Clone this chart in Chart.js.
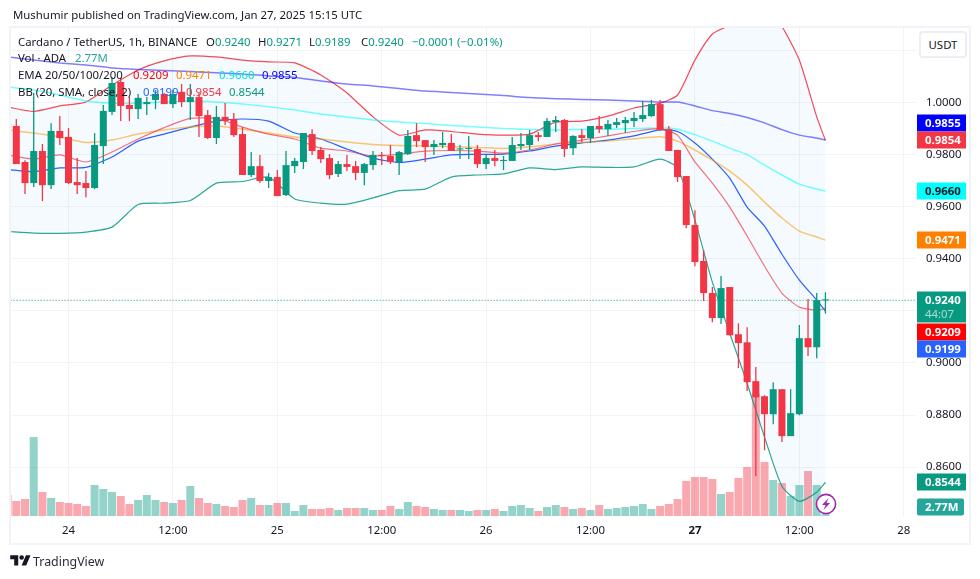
<!DOCTYPE html>
<html>
<head>
<meta charset="utf-8">
<title>Cardano / TetherUS</title>
<script src="https://cdn.jsdelivr.net/npm/chart.js@4"></script>
<style>
  html, body { margin: 0; padding: 0; background: #fff; }
  body { width: 980px; height: 579px; position: relative; overflow: hidden; font-family: "Noto Sans", sans-serif; color: #131722; }
  canvas { position: absolute; left: 0; top: 0; }
  .frame { position: absolute; left: 9px; top: 26px; width: 958px; height: 515px; border: 2px solid #f0f3fa; }
  .t { position: absolute; white-space: nowrap; font-size: 11.4px; line-height: 16px; }
  .usdt { position: absolute; left: 919px; top: 31px; width: 44px; height: 23px; border: 2px solid #eceef5; border-radius: 4px; font-size: 11.4px; line-height: 23px; text-align: center; background: #fff; }
</style>
</head>
<body>
<canvas id="chart" width="980" height="579"></canvas>
<div class="frame"></div>

<div class="t" style="left:13px;top:7px">Mushumir published on TradingView.com, Jan 27, 2025 15:15 UTC</div>

<div class="t" style="left:18px;top:34px">Cardano / TetherUS, 1h, BINANCE</div>
<div class="t" style="left:206px;top:34px">O<span style="color:#089981">0.9240</span></div>
<div class="t" style="left:258px;top:34px">H<span style="color:#089981">0.9271</span></div>
<div class="t" style="left:309px;top:34px">L<span style="color:#089981">0.9189</span></div>
<div class="t" style="left:361px;top:34px">C<span style="color:#089981">0.9240</span></div>
<div class="t" style="left:412px;top:34px;color:#089981">−0.0001 (−0.01%)</div>

<div class="t" style="left:18px;top:50px">Vol · ADA</div>
<div class="t" style="left:75px;top:50px;color:#26a69a">2.77M</div>

<div class="t" style="left:18px;top:67px">EMA 20/50/100/200</div>
<div class="t" style="left:133px;top:67px;color:#ff0000">0.9209</div>
<div class="t" style="left:176px;top:67px;color:#ff7f00">0.9471</div>
<div class="t" style="left:219px;top:67px;color:#00e5e5">0.9660</div>
<div class="t" style="left:262px;top:67px;color:#0000ff">0.9855</div>

<div class="t" style="left:18px;top:84px">BB (20, SMA, close, 2)</div>
<div class="t" style="left:143px;top:84px;color:#2962ff">0.9199</div>
<div class="t" style="left:186px;top:84px;color:#f23645">0.9854</div>
<div class="t" style="left:229px;top:84px;color:#089981">0.8544</div>

<div class="usdt">USDT</div>

<svg style="position:absolute;left:815px;top:493px" width="22" height="22" viewBox="0 0 22 22">
  <circle cx="11" cy="11" r="9.6" fill="#fff" stroke="#9c27b0" stroke-width="1.6"/>
  <path d="M13.5 5 L7 12 L10.6 12 L8.5 17 L15 10 L11.4 10 Z" fill="#9c27b0"/>
</svg>

<svg style="position:absolute;left:10px;top:553px" width="21" height="16" viewBox="0 0 36 28">
  <path d="M14 22H7V11H0V4h14v18zM28 22h-8l7.5-18h8L28 22z" fill="#131722"/>
  <circle cx="20" cy="8" r="4" fill="#131722"/>
</svg>
<div class="t" style="left:33px;top:552px;font-size:12.4px;line-height:20px;color:#2a2e39">TradingView</div>

<script>
// hours counted from Jan 24 00:00, one candle per hour
const firstHour = -7;
const opens = [0.9917,0.9909,0.9771,0.9690,0.9813,0.9682,0.9890,0.9867,0.9694,0.9690,0.9671,0.9832,0.9963,1.0078,0.9990,0.9974,0.9993,1.0009,1.0032,0.9993,1.0040,1.0001,1.0020,0.9951,0.9863,0.9944,0.9936,0.9878,0.9721,0.9755,0.9698,0.9713,0.9644,0.9755,0.9771,0.9878,0.9817,0.9786,0.9725,0.9763,0.9755,0.9729,0.9759,0.9798,0.9794,0.9771,0.9801,0.9874,0.9855,0.9828,0.9836,0.9844,0.9819,0.9821,0.9821,0.9763,0.9786,0.9775,0.9775,0.9832,0.9836,0.9874,0.9867,0.9924,0.9932,0.9824,0.9874,0.9863,0.9909,0.9897,0.9913,0.9920,0.9928,0.9936,0.9947,0.9993,0.9897,0.9817,0.9717,0.9529,0.9391,0.9268,0.9172,0.9291,0.9110,0.9079,0.8930,0.8872,0.8803,0.8899,0.8719,0.8803,0.9095,0.9060,0.9240];
const highs = [0.9925,0.9936,0.9778,1.0036,0.9840,0.9920,0.9947,0.9901,0.9786,0.9736,0.9882,0.9990,1.0097,1.0093,1.0020,1.0032,1.0020,1.0047,1.0036,1.0047,1.0070,1.0070,1.0036,0.9970,0.9986,0.9997,0.9959,0.9905,0.9809,0.9798,0.9729,0.9740,0.9813,0.9786,0.9882,0.9897,0.9828,0.9801,0.9775,0.9798,0.9775,0.9767,0.9813,0.9809,0.9836,0.9813,0.9894,0.9920,0.9855,0.9855,0.9886,0.9878,0.9836,0.9871,0.9836,0.9798,0.9817,0.9794,0.9867,0.9882,0.9894,0.9886,0.9940,0.9947,0.9936,0.9874,0.9897,0.9909,0.9947,0.9932,0.9940,0.9944,0.9963,1.0005,1.0009,1.0009,0.9909,0.9817,0.9717,0.9586,0.9433,0.9291,0.9333,0.9291,0.9152,0.9137,0.8984,0.8876,0.8926,0.8899,0.8899,0.9145,0.9245,0.9268,0.9271];
const lows = [0.9897,0.9763,0.9648,0.9675,0.9621,0.9667,0.9836,0.9686,0.9648,0.9636,0.9667,0.9763,0.9951,0.9928,0.9928,0.9936,0.9951,0.9974,0.9993,0.9978,0.9982,0.9932,0.9867,0.9859,0.9840,0.9913,0.9867,0.9721,0.9713,0.9690,0.9671,0.9640,0.9640,0.9729,0.9744,0.9798,0.9767,0.9705,0.9713,0.9736,0.9702,0.9682,0.9740,0.9759,0.9763,0.9721,0.9798,0.9828,0.9771,0.9798,0.9824,0.9813,0.9782,0.9782,0.9748,0.9744,0.9755,0.9740,0.9775,0.9817,0.9817,0.9851,0.9867,0.9886,0.9790,0.9798,0.9848,0.9844,0.9882,0.9871,0.9901,0.9882,0.9905,0.9924,0.9944,0.9890,0.9813,0.9694,0.9517,0.9371,0.9237,0.9156,0.9149,0.9106,0.8980,0.8892,0.8565,0.8665,0.8765,0.8696,0.8719,0.8799,0.9026,0.9018,0.9189];
const closes = [0.9905,0.9763,0.9690,0.9813,0.9682,0.9890,0.9863,0.9690,0.9682,0.9671,0.9836,0.9967,1.0074,0.9986,0.9974,1.0017,1.0001,1.0032,0.9993,1.0032,1.0001,1.0020,0.9947,0.9863,0.9944,0.9928,0.9874,0.9721,0.9755,0.9698,0.9713,0.9640,0.9759,0.9775,0.9882,0.9813,0.9782,0.9721,0.9763,0.9752,0.9729,0.9763,0.9798,0.9794,0.9771,0.9809,0.9871,0.9851,0.9828,0.9840,0.9844,0.9813,0.9823,0.9824,0.9763,0.9786,0.9775,0.9778,0.9836,0.9840,0.9874,0.9867,0.9928,0.9932,0.9821,0.9871,0.9863,0.9909,0.9897,0.9917,0.9924,0.9932,0.9940,0.9951,0.9993,0.9894,0.9813,0.9713,0.9529,0.9387,0.9268,0.9172,0.9287,0.9106,0.9076,0.8926,0.8868,0.8803,0.8899,0.8719,0.8807,0.9095,0.9060,0.9241,0.9240];
const volumes = [33.6,24,27.2,126.4,38.4,28.8,22.4,20.8,19.2,16,49.6,43.2,38.4,32,19.2,25.6,33.6,25.6,22.4,20.8,25.6,48,28.8,20.8,19.2,16,14.4,25.6,28.8,17.6,17.6,20.8,20.8,8,17.6,11.2,11.2,12.8,9.6,12.8,12.8,12.8,9.6,9.6,16,11.2,22.4,16,14.4,11.2,9.6,9.6,9.6,8,9.6,9.6,11.2,8,16,17.6,12.8,8,14.4,17.6,14.4,11.2,12.8,9.6,17.6,11.2,12.8,14.4,16,19.2,11.2,16,19.2,27.2,56,62.4,62.4,59.2,35.2,38.4,60.8,78.4,196.8,86.4,57.6,52.8,32,49.6,72,49.6,2.77];

// indicator readings, taken every few hours along the lines
const lineHours = [-7,-4,-1,2,5,8,11,14,17,20,23,26,29,32,35,38,41,44,47,50,53,56,59,62,65,68,70,72,74,76,78,80,82,84,86,87];
const ema20 = [0.9798,0.9782,0.9798,0.9771,0.9809,0.9859,0.9903,0.9938,0.9938,0.9905,0.9878,0.9859,0.9824,0.9813,0.9794,0.9801,0.9813,0.9815,0.9813,0.9805,0.9817,0.9840,0.9855,0.9871,0.9888,0.9899,0.9874,0.9771,0.9690,0.9598,0.9487,0.9371,0.9268,0.9214,0.9202,0.9209];
const ema50 = [0.9894,0.9882,0.9867,0.9846,0.9855,0.9878,0.9894,0.9905,0.9909,0.9897,0.9882,0.9867,0.9859,0.9848,0.9838,0.9834,0.9832,0.9830,0.9827,0.9823,0.9829,0.9840,0.9846,0.9851,0.9860,0.9868,0.9851,0.9817,0.9778,0.9736,0.9682,0.9617,0.9556,0.9506,0.9483,0.9471];
const ema100 = [1.0059,1.0047,1.0028,1.0005,0.9997,0.9997,1.0001,1.0005,1.0001,0.9993,0.9983,0.9970,0.9955,0.9944,0.9932,0.9924,0.9919,0.9911,0.9905,0.9899,0.9896,0.9894,0.9896,0.9897,0.9899,0.9901,0.9897,0.9876,0.9851,0.9824,0.9799,0.9759,0.9721,0.9686,0.9667,0.9660];
const ema200 = [1.0174,1.0162,1.0151,1.0143,1.0132,1.0126,1.0122,1.0118,1.0113,1.0109,1.0101,1.0095,1.0082,1.0070,1.0063,1.0053,1.0043,1.0038,1.0032,1.0026,1.0018,1.0014,1.0011,1.0009,1.0005,1.0001,1.0001,0.9986,0.9968,0.9957,0.9942,0.9921,0.9895,0.9874,0.9863,0.9855];
const bbBasis = [0.9742,0.9734,0.9748,0.9750,0.9790,0.9851,0.9878,0.9905,0.9928,0.9936,0.9928,0.9882,0.9859,0.9821,0.9786,0.9769,0.9782,0.9798,0.9800,0.9801,0.9813,0.9832,0.9844,0.9855,0.9871,0.9894,0.9888,0.9844,0.9782,0.9709,0.9598,0.9525,0.9417,0.9318,0.9241,0.9199];
const bbUpper = [0.9982,0.9965,0.9986,1.0001,1.0066,1.0124,1.0159,1.0178,1.0174,1.0162,1.0155,1.0151,1.0105,1.0036,0.9944,0.9874,0.9894,0.9888,0.9878,0.9874,0.9878,0.9924,0.9928,0.9947,0.9978,0.9997,1.0028,1.0162,1.0262,1.0297,1.0354,1.0374,1.0291,1.0162,0.9944,0.9854];
const bbLower = [0.9504,0.9498,0.9497,0.9502,0.9521,0.9608,0.9613,0.9623,0.9690,0.9696,0.9713,0.9629,0.9613,0.9609,0.9633,0.9661,0.9667,0.9713,0.9721,0.9725,0.9748,0.9742,0.9752,0.9750,0.9752,0.9782,0.9748,0.9548,0.9310,0.9114,0.8922,0.8715,0.8527,0.8469,0.8504,0.8542];

const lastPrice = 0.9240;
const lastPriceHours = [-7, 98];

const priceTicks = ['0.8600','0.8800','0.9000','0.9400','0.9600','0.9800','1.0000'];
const timeTickHours = [0,12,24,36,48,60,72,84,96];
const timeTickLabels = ['24','12:00','25','12:00','26','12:00','27','12:00','28'];
const boldTimeTick = 72;

const tagValues = [0.9855,0.9854,0.9660,0.9471,0.9240,0.9209,0.9199,0.8544];
const tagColors = ['#0000ff','#f23645','#00ffff','#ff7f00','#089981','#ff0000','#2962ff','#089981'];
const tagTextColors = ['#fff','#fff','#131722','#fff','#fff','#fff','#fff','#fff'];
// how far each tag got pushed off its price so they don't overlap
const tagShifts = [-17,0,0,0,0,24,38,0];
const volumeTag = '2.77M';
const countdown = '44:07';

const upColor = '#089981';
const downColor = '#f23645';
const candleHours = opens.map((_, i) => firstHour + i);
const isUp = i => closes[i] >= opens[i];
const candleColors = candleHours.map((_, i) => isUp(i) ? upColor : downColor);
const volumeColors = candleHours.map((_, i) => isUp(i) ? 'rgba(8,153,129,0.43)' : 'rgba(242,54,69,0.43)');

function lineSet(label, values, color, extra) {
  return Object.assign({
    type: 'line',
    label: label,
    data: lineHours.map((h, i) => ({ x: h, y: values[i] })),
    borderColor: color,
    borderWidth: 1.2,
    tension: 0.2,
    pointRadius: 0,
    order: 5,
    yAxisID: 'y'
  }, extra || {});
}

const priceTags = {
  id: 'priceTags',
  afterDatasetsDraw(chart) {
    const ctx = chart.ctx;
    const y = chart.scales.y;
    const left = chart.chartArea.right + 1;
    const w = 49;
    ctx.save();
    ctx.textBaseline = 'middle';
    ctx.textAlign = 'left';
    tagValues.forEach((v, i) => {
      const py = Math.round(y.getPixelForValue(v) + tagShifts[i]);
      const withClock = v === lastPrice;
      ctx.fillStyle = tagColors[i];
      ctx.fillRect(left, py - 8.5, w, withClock ? 31 : 17);
      ctx.fillStyle = tagTextColors[i];
      ctx.font = 'bold 11.4px "Noto Sans"';
      ctx.fillText(v.toFixed(4), left + 8, py + 0.5);
      if (withClock) {
        ctx.font = '11.4px "Noto Sans"';
        ctx.fillStyle = 'rgba(255,255,255,0.65)';
        ctx.fillText(countdown, left + 8, py + 15);
      }
    });
    // volume tag sits at the bottom of the pane
    const vy = 507;
    ctx.fillStyle = '#26a69a';
    ctx.beginPath();
    ctx.roundRect(left, vy - 8.5, 47, 17, 2);
    ctx.fill();
    ctx.fillStyle = '#fff';
    ctx.font = 'bold 11.4px "Noto Sans"';
    ctx.fillText(volumeTag, left + 8, vy + 0.5);
    ctx.restore();
  }
};

new Chart(document.getElementById('chart'), {
  type: 'bar',
  plugins: [priceTags],
  data: {
    datasets: [
      {
        label: 'Bodies',
        data: candleHours.map((h, i) => ({ x: h, y: [Math.min(opens[i], closes[i]), Math.max(opens[i], closes[i])] })),
        backgroundColor: candleColors,
        barThickness: 7,
        minBarLength: 1,
        grouped: false,
        inflateAmount: 0,
        order: 1
      },
      {
        label: 'Wicks',
        data: candleHours.map((h, i) => ({ x: h, y: [lows[i], highs[i]] })),
        backgroundColor: candleColors,
        barThickness: 1.3,
        grouped: false,
        inflateAmount: 0,
        order: 2
      },
      {
        type: 'line',
        label: 'Last price',
        data: lastPriceHours.map(h => ({ x: h, y: lastPrice })),
        borderColor: upColor,
        borderWidth: 1,
        borderDash: [1, 2],
        pointRadius: 0,
        order: 3
      },
      lineSet('EMA 20', ema20, 'rgba(242,54,69,0.7)'),
      lineSet('EMA 50', ema50, 'rgba(255,152,0,0.55)', { borderWidth: 1.5 }),
      lineSet('EMA 100', ema100, 'rgba(0,255,255,0.55)', { borderWidth: 1.5 }),
      lineSet('EMA 200', ema200, 'rgba(0,0,255,0.5)', { borderWidth: 1.5 }),
      lineSet('BB basis', bbBasis, '#2962ff'),
      lineSet('BB upper', bbUpper, 'rgba(242,54,69,0.9)', { fill: { target: '+1' }, backgroundColor: 'rgba(33,150,243,0.05)', order: 6 }),
      lineSet('BB lower', bbLower, 'rgba(8,153,129,0.85)', { order: 6 }),
      {
        label: 'Volume',
        data: candleHours.map((h, i) => ({ x: h, y: volumes[i] })),
        backgroundColor: volumeColors,
        barThickness: 8,
        grouped: false,
        inflateAmount: 0,
        yAxisID: 'vol',
        order: 9
      }
    ]
  },
  options: {
    responsive: false,
    animation: false,
    events: [],
    layout: { padding: { left: 11, top: 28, right: 11, bottom: 36 } },
    plugins: { legend: { display: false }, tooltip: { enabled: false } },
    scales: {
      x: {
        type: 'linear',
        offset: false,
        min: -6.61,
        max: 97.41,
        grid: { color: '#f2f3f7', drawTicks: false, offset: false },
        border: { display: false },
        afterFit: s => { s.height = 27; },
        afterBuildTicks: s => { s.ticks = timeTickHours.map(v => ({ value: v })); },
        ticks: {
          autoSkip: false,
          maxRotation: 0,
          padding: 8,
          color: '#131722',
          font: c => ({ family: '"Noto Sans"', size: 11.4, weight: c.tick && c.tick.value === boldTimeTick ? 'bold' : 'normal' }),
          callback: v => timeTickLabels[timeTickHours.indexOf(v)]
        }
      },
      y: {
        position: 'right',
        min: 0.84125,
        max: 1.02851,
        grid: { color: '#f2f3f7', drawTicks: false },
        border: { display: false },
        afterFit: s => { s.width = 53; },
        ticks: {
          stepSize: 0.02,
          includeBounds: false,
          padding: 10,
          color: '#131722',
          font: { family: '"Noto Sans"', size: 11.4 },
          callback: v => priceTicks.includes(v.toFixed(4)) ? v.toFixed(4) : ''
        }
      },
      vol: {
        display: false,
        min: 0,
        max: 780.8
      }
    }
  }
});
</script>
</body>
</html>
